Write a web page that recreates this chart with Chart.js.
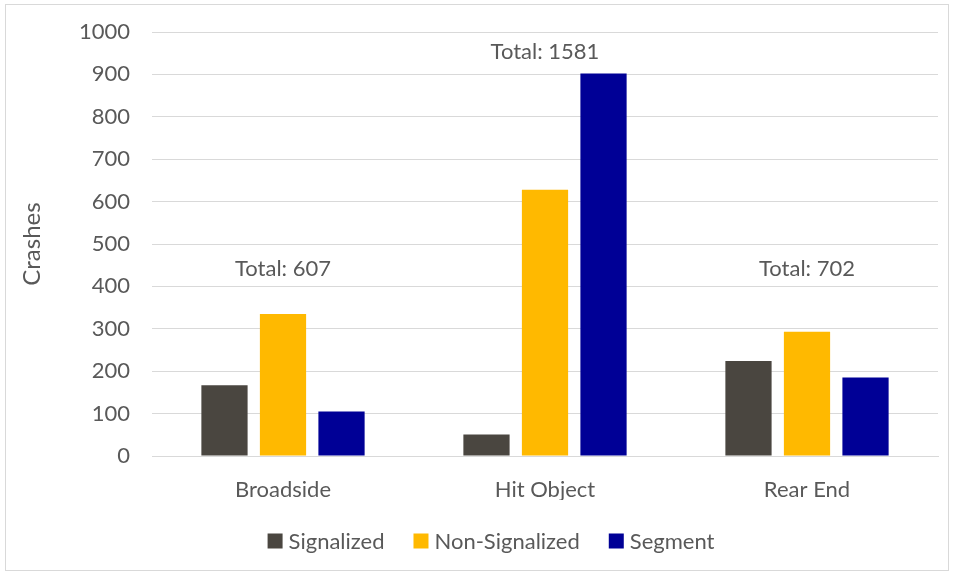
<!DOCTYPE html>
<html>
<head>
<meta charset="utf-8">
<script src="https://cdn.jsdelivr.net/npm/chart.js@4.4.1/dist/chart.umd.min.js"></script>
<style>
  html, body { margin: 0; padding: 0; background: #fff; }
  #wrap { position: relative; width: 956px; height: 577px; }
  #frame { position: absolute; left: 5px; top: 4px; width: 944px; height: 567px; border: 1px solid #d9d9d9; box-sizing: border-box; pointer-events: none; }
</style>
</head>
<body>
<div id="wrap">
  <canvas id="chart" width="956" height="577"></canvas>
  <div id="frame"></div>
</div>
<script>
// crash counts by type
const categories = ['Broadside', 'Hit Object', 'Rear End'];
const signalized = [167, 51, 224];
const nonSignalized = [335, 628, 293];
const segment = [105, 902, 185];
const totalLabels = ['Total: 607', 'Total: 1581', 'Total: 702'];
const totalLabelAt = [442, 952, 442];   // y value where each total sits
const yTicks = [0, 100, 200, 300, 400, 500, 600, 700, 800, 900, 1000];

const textColor = '#595959';
const fontFamily = 'Lato, "Open Sans", sans-serif';

// writes the "Total: n" text over each group
const totalsPlugin = {
  id: 'totals',
  afterDatasetsDraw(chart) {
    const { ctx, scales } = chart;
    ctx.save();
    ctx.fillStyle = textColor;
    ctx.font = '22px ' + fontFamily;
    ctx.textAlign = 'center';
    ctx.textBaseline = 'middle';
    categories.forEach((c, i) => {
      ctx.fillText(totalLabels[i], scales.x.getPixelForValue(i), scales.y.getPixelForValue(totalLabelAt[i]));
    });
    ctx.restore();
  }
};

// Excel-like legend: small square, short gap, label; sits a bit right of centre
const legendPlugin = {
  id: 'excelLegend',
  afterDraw(chart) {
    const { ctx } = chart;
    const box = 15, gap = 6, spacing = 29, cx = 491, cy = 541;
    ctx.save();
    ctx.font = '22px ' + fontFamily;
    ctx.textBaseline = 'middle';
    const items = chart.data.datasets.map(ds => ({
      text: ds.label, color: ds.backgroundColor, w: box + gap + ctx.measureText(ds.label).width
    }));
    const total = items.reduce((s, it) => s + it.w, 0) + spacing * (items.length - 1);
    let x = cx - total / 2;
    items.forEach(it => {
      ctx.fillStyle = it.color;
      ctx.fillRect(x, cy - box / 2, box, box);
      ctx.fillStyle = textColor;
      ctx.fillText(it.text, x + box + gap, cy + 1);
      x += it.w + spacing;
    });
    ctx.restore();
  }
};

new Chart(document.getElementById('chart'), {
  type: 'bar',
  data: {
    labels: categories,
    datasets: [
      { label: 'Signalized', data: signalized, backgroundColor: '#4a4640' },
      { label: 'Non-Signalized', data: nonSignalized, backgroundColor: '#ffb900' },
      { label: 'Segment', data: segment, backgroundColor: '#000096' }
    ]
  },
  options: {
    responsive: false,
    animation: false,
    layout: { padding: { left: 10, right: 18, top: 32, bottom: 77 } },
    datasets: {
      bar: { categoryPercentage: 0.67, barPercentage: 0.79 }
    },
    scales: {
      x: {
        grid: { display: false, drawTicks: false },
        border: { color: '#d9d9d9' },
        ticks: { color: textColor, font: { family: fontFamily, size: 22 }, padding: 21 },
        afterFit(scale) { scale.height = 44; }
      },
      y: {
        min: 0,
        max: 1000,
        afterBuildTicks(scale) { scale.ticks = yTicks.map(v => ({ value: v })); },
        grid: { color: '#d9d9d9', drawTicks: false },
        border: { display: false },
        ticks: {
          color: textColor,
          font: { family: fontFamily, size: 22, lineHeight: 1 },
          padding: 22,
          callback: v => String(v)
        },
        title: {
          display: true,
          text: 'Crashes',
          color: textColor,
          font: { family: fontFamily, size: 24 },
          padding: { top: 8, bottom: 4 }
        },
        afterFit(scale) {
          scale.width = 142;
          scale.paddingTop = 0;
        }
      }
    },
    plugins: {
      legend: { display: false },
      tooltip: { enabled: false }
    }
  },
  plugins: [totalsPlugin, legendPlugin]
});
</script>
</body>
</html>
